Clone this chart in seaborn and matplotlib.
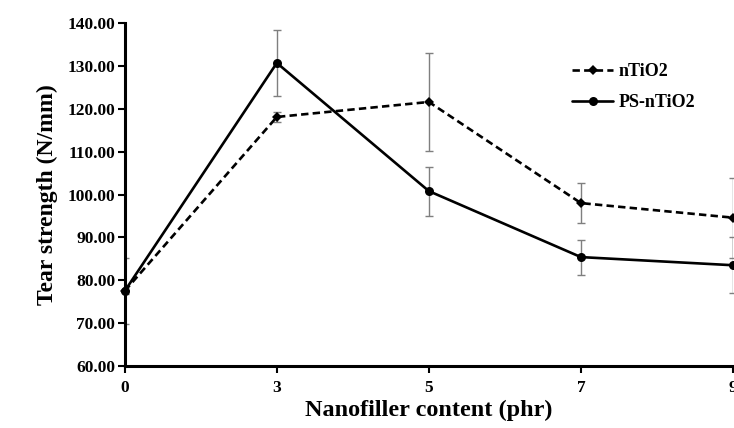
import numpy as np
import pandas as pd
import matplotlib
matplotlib.use("Agg")
import matplotlib.pyplot as plt
import seaborn as sns
from matplotlib.lines import Line2D

categories = ["0", "3", "5", "7", "9"]
ntio2 = [77.5, 118.1, 121.6, 98.0, 94.6]
ntio2_err = [7.6, 1.2, 11.4, 4.7, 9.3]
ps_ntio2 = [77.5, 130.7, 100.8, 85.4, 83.5]
ps_ntio2_err = [0.8, 7.6, 5.7, 4.1, 6.5]
series_names = ["nTiO2", "PS-nTiO2"]
yticks = [60, 70, 80, 90, 100, 110, 120, 130, 140]

sns.set_theme(style="white")
plt.rcParams["font.family"] = ["Liberation Serif", "DejaVu Serif"]
plt.rcParams["font.weight"] = "bold"
plt.rcParams["text.color"] = "black"
plt.rcParams["axes.labelcolor"] = "black"
plt.rcParams["xtick.color"] = "black"
plt.rcParams["ytick.color"] = "black"

df = pd.DataFrame({
    "content": categories * 2,
    "value": ntio2 + ps_ntio2,
    "series": [series_names[0]] * 5 + [series_names[1]] * 5,
})

fig = plt.figure(figsize=(7.34, 4.28), dpi=100)
ax = fig.add_axes([0.170, 0.145, 0.8286, 0.801])

# error bars (gray, behind lines)
ax.errorbar(categories, ntio2, yerr=ntio2_err, fmt="none", ecolor="#7f7f7f",
            elinewidth=1.0, capsize=2.6, capthick=1.0, zorder=1)
ax.errorbar(categories, ps_ntio2, yerr=ps_ntio2_err, fmt="none", ecolor="#7f7f7f",
            elinewidth=1.0, capsize=2.6, capthick=1.0, zorder=1)

sns.lineplot(data=df, x="content", y="value", hue="series", style="series",
             palette={"nTiO2": "black", "PS-nTiO2": "black"},
             dashes={"nTiO2": (2.8, 1.6), "PS-nTiO2": ""},
             markers={"nTiO2": "D", "PS-nTiO2": "o"},
             markersize=6.5, linewidth=1.9, markeredgewidth=0,
             ax=ax, legend=False, zorder=3, clip_on=False)
for ln in ax.lines:
    if ln.get_marker() == "D":
        ln.set_markersize(5.5)

ax.set_xlim(0, 4)
ax.set_ylim(60, 140)
ax.set_yticks(yticks)
ax.set_yticklabels([f"{v:.2f}" for v in yticks])

for s in ["top", "right"]:
    ax.spines[s].set_visible(False)
for s in ["left", "bottom"]:
    ax.spines[s].set_color("black")
    ax.spines[s].set_linewidth(2.2)

ax.tick_params(axis="both", which="major", direction="out", length=5, width=1.5,
               color="black", labelcolor="black", labelsize=12.5, pad=2,
               bottom=True, left=True)
for lab in ax.get_xticklabels() + ax.get_yticklabels():
    lab.set_fontweight("bold")
ax.tick_params(axis="x", pad=5)

ax.set_xlabel("Nanofiller content (phr)", fontsize=17.5, fontweight="bold",
              labelpad=3, color="black")
ax.set_ylabel("Tear strength (N/mm)", fontsize=17, fontweight="bold",
              labelpad=7, color="black")

handles = [
    Line2D([], [], color="black", lw=1.9, dashes=(2.8, 1.6), marker="D",
           markersize=5.5, markeredgewidth=0),
    Line2D([], [], color="black", lw=1.9, marker="o", markersize=6.5,
           markeredgewidth=0),
]
leg = fig.legend(handles, series_names, loc="upper left",
                 bbox_to_anchor=(0.757, 0.89), frameon=False,
                 prop={"family": "Liberation Serif", "weight": "bold", "size": 13},
                 handlelength=2.3, handletextpad=0.3, labelspacing=0.75)
for t in leg.get_texts():
    t.set_color("black")

fig.savefig("out.png", dpi=100)
